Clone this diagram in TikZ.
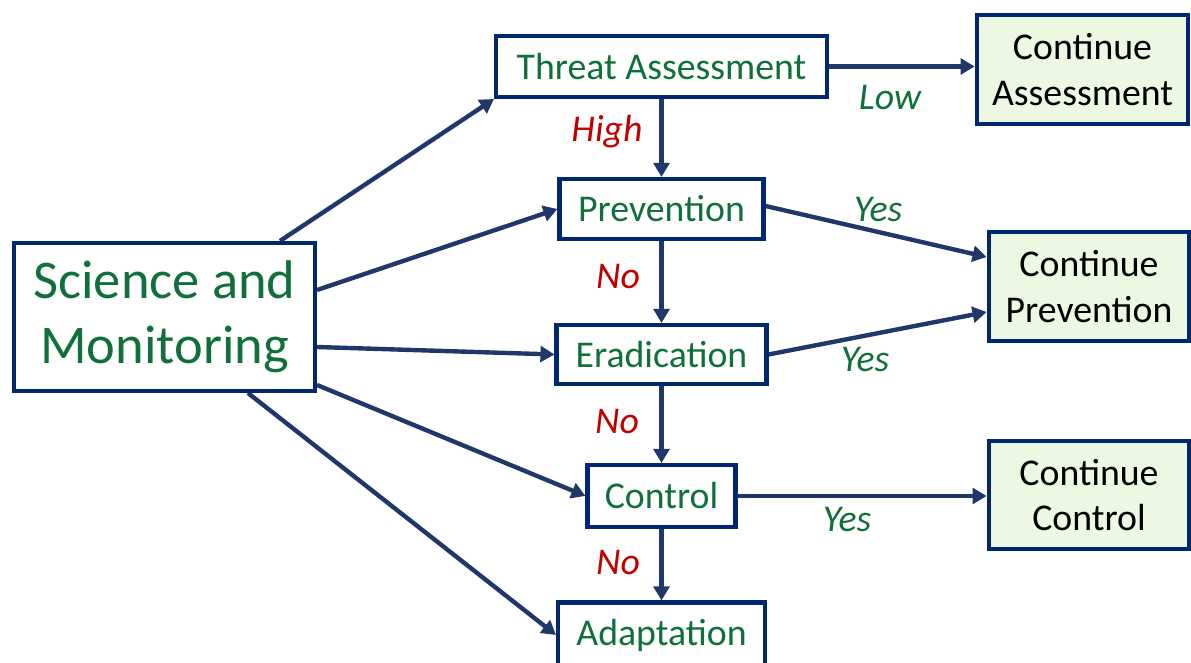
\documentclass[tikz,border=0pt]{standalone}
\usepackage{fontspec}
\setmainfont{Carlito}
\usetikzlibrary{backgrounds,arrows.meta,shapes}
\pgfdeclarelayer{edgelayer}
\pgfdeclarelayer{nodelayer}
\pgfsetlayers{edgelayer,nodelayer,main}
\definecolor{boxnavy}{RGB}{0,40,110}
\definecolor{arrownavy}{RGB}{31,56,105}
\definecolor{textgreen}{RGB}{16,112,60}
\definecolor{textred}{RGB}{192,0,0}
\definecolor{paleleaf}{RGB}{236,248,225}
\tikzset{font=\fontsize{21.5}{26}\selectfont}
\tikzstyle{none}=[inner sep=0pt]
\tikzstyle{box}=[rectangle,draw=boxnavy,line width=2.3pt,fill=white,text=textgreen,inner sep=0pt,align=center]
\tikzstyle{bigbox}=[box,font=\fontsize{31}{37}\selectfont]
\tikzstyle{endbox}=[rectangle,draw=boxnavy,line width=2.7pt,fill=paleleaf,text=black,inner sep=0pt,align=center]
\tikzstyle{yes}=[inner sep=0pt,text=textgreen,font=\fontsize{21.5}{26}\selectfont\itshape]
\tikzstyle{no}=[inner sep=0pt,text=textred,font=\fontsize{21.5}{26}\selectfont\itshape]
\tikzstyle{arrow}=[draw=arrownavy,line width=2.5pt,-{Triangle[length=8pt,width=9pt]}]

\begin{document}
\begin{tikzpicture}
	\useasboundingbox (0,0) rectangle (23.82,-13.26);
	\begin{pgfonlayer}{nodelayer}
		\node [style=bigbox, minimum width=6.02cm, minimum height=2.96cm] (0) at (3.29, -6.34) {Science and\\Monitoring};
		\node [style=box, minimum width=6.62cm, minimum height=1.22cm] (1) at (13.23, -1.33) {Threat Assessment};
		\node [style=box, minimum width=4.08cm, minimum height=1.2cm] (2) at (13.23, -4.18) {Prevention};
		\node [style=box, minimum width=4.2cm, minimum height=1.18cm] (3) at (13.23, -7.09) {Eradication};
		\node [style=box, minimum width=2.96cm, minimum height=1.24cm] (4) at (13.23, -9.92) {Control};
		\node [style=box, minimum width=4.14cm, minimum height=1.3cm] (5) at (13.23, -12.7) {Adaptation};
		\node [style=endbox, minimum width=4.22cm, minimum height=2.18cm] (6) at (21.65, -1.39) {Continue\\Assessment};
		\node [style=endbox, minimum width=4.0cm, minimum height=2.18cm] (7) at (21.78, -5.73) {Continue\\Prevention};
		\node [style=endbox, minimum width=4.0cm, minimum height=2.16cm] (8) at (21.78, -9.9) {Continue\\Control};
		\node [style=no] (9) at (12.14, -2.64) {High};
		\node [style=yes] (10) at (17.8, -1.96) {Low};
		\node [style=no] (11) at (12.36, -5.54) {No};
		\node [style=no] (12) at (12.34, -8.44) {No};
		\node [style=no] (13) at (12.36, -11.26) {No};
		\node [style=yes] (14) at (17.56, -4.2) {Yes};
		\node [style=yes] (15) at (17.3, -7.2) {Yes};
		\node [style=yes] (16) at (16.94, -10.4) {Yes};
	\end{pgfonlayer}
	\begin{pgfonlayer}{edgelayer}
		\draw [style=arrow] ([xshift=2.31cm]0.north) to (1.south west);
		\draw [style=arrow] ([yshift=0.54cm]0.east) to (2.west);
		\draw [style=arrow] ([yshift=-0.6cm]0.east) to (3.west);
		\draw [style=arrow] ([yshift=-1.36cm]0.east) to (4.west);
		\draw [style=arrow] ([xshift=1.67cm]0.south) to (5.west);
		\draw [style=arrow] (1.east) to (1.east -| 6.west);
		\draw [style=arrow] (1.south) to (2.north);
		\draw [style=arrow] (2.south) to (3.north);
		\draw [style=arrow] (3.south) to (4.north);
		\draw [style=arrow] (4.south) to (5.north);
		\draw [style=arrow] ([yshift=0.06cm]2.east) to ([yshift=0.59cm]7.west);
		\draw [style=arrow] (3.east) to ([yshift=-0.51cm]7.west);
		\draw [style=arrow] (4.east) to (4.east -| 8.west);
	\end{pgfonlayer}
\end{tikzpicture}
\end{document}
